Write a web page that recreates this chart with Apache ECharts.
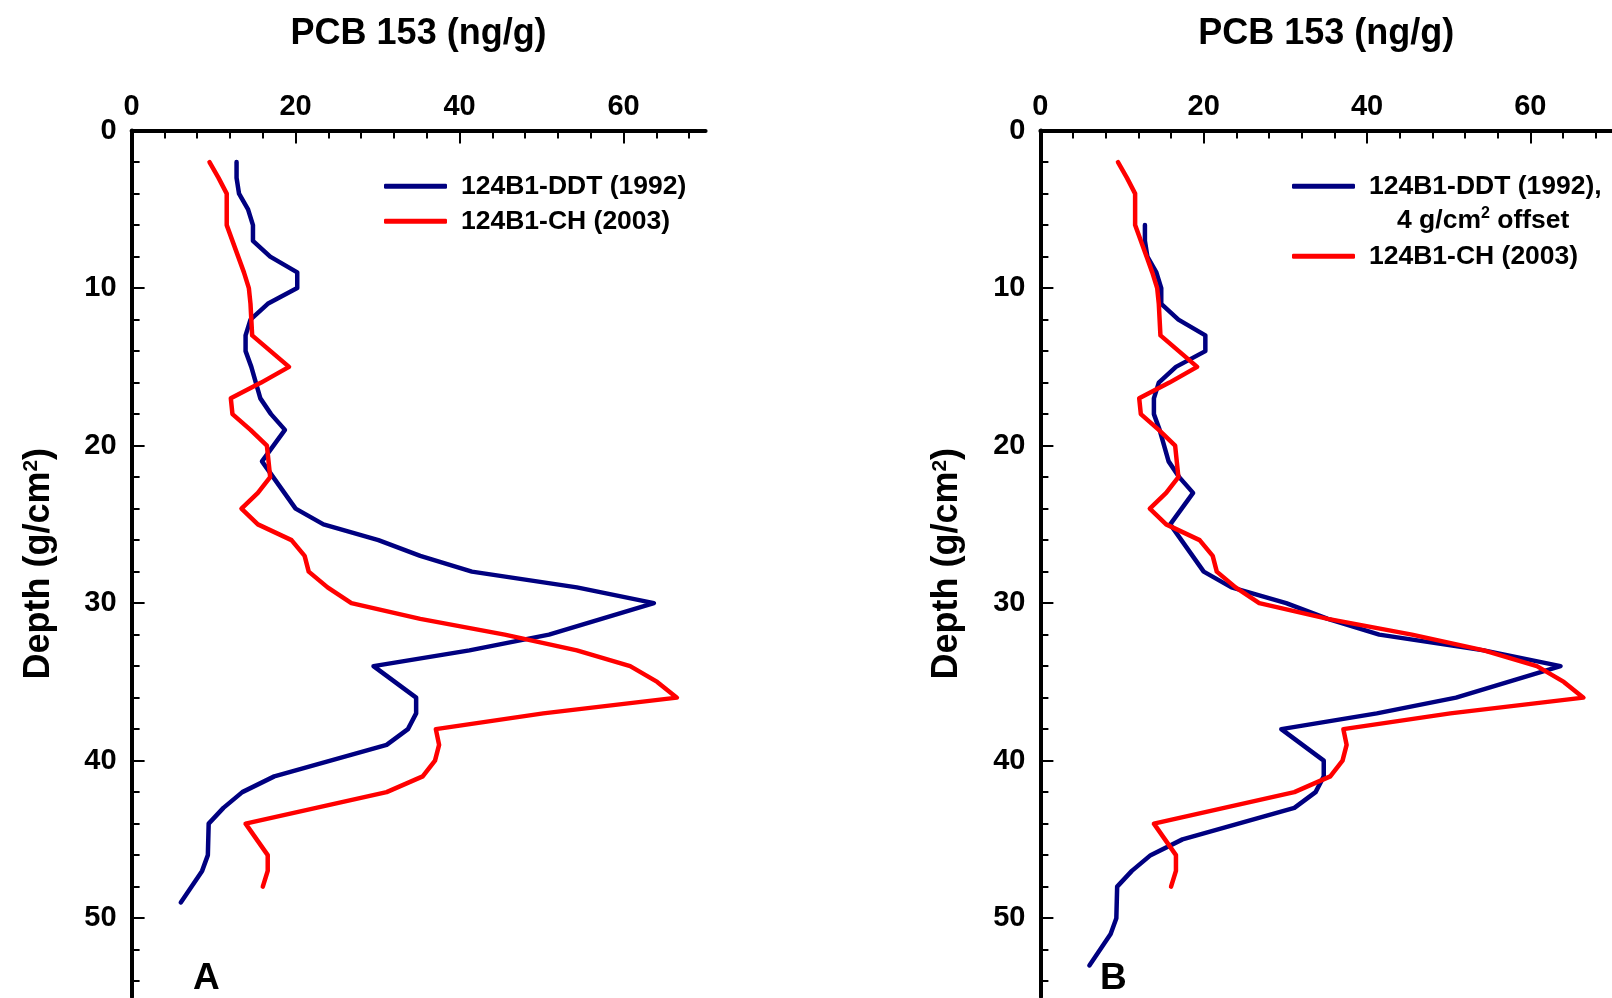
<!DOCTYPE html>
<html>
<head>
<meta charset="utf-8">
<script src="https://cdn.jsdelivr.net/npm/echarts@6/dist/echarts.min.js"></script>
<style>html,body{margin:0;padding:0;background:#fff}#c{width:1612px;height:998px}</style>
</head>
<body>
<div id="c"></div>
<script>
// ---- data ----
const depth1992 = [2, 3, 4, 5, 6, 7, 8, 9, 10, 11, 12, 13, 14, 15, 17, 18, 19, 21, 24, 25, 26, 27, 28, 29, 30, 32, 33, 34, 36, 37, 38, 39, 41, 42, 43, 44, 46, 47, 49];
const pcb1992   = [12.8, 12.8, 13.1, 14.2, 14.8, 14.8, 16.9, 20.2, 20.2, 16.6, 14.5, 13.9, 13.9, 14.6, 15.7, 17.0, 18.7, 15.9, 20.0, 23.4, 30.1, 35.2, 41.5, 54.3, 63.7, 50.9, 41.2, 29.5, 34.7, 34.7, 33.7, 31.1, 17.4, 13.5, 11.2, 9.4, 9.3, 8.6, 6.0];
const depth2003 = [2, 3, 4, 6, 8, 9, 10, 11, 13, 15, 16, 17, 18, 19, 20, 22, 23, 24, 25, 26, 27, 28, 29, 30, 31, 32, 33, 34, 35, 36, 37, 38, 39, 40, 41, 42, 44, 46, 47, 48];
const pcb2003   = [9.5, 10.6, 11.6, 11.6, 13.0, 13.7, 14.3, 14.5, 14.7, 19.2, 15.8, 12.1, 12.3, 14.5, 16.5, 16.9, 15.4, 13.4, 15.4, 19.5, 21.1, 21.6, 23.9, 26.8, 35.2, 45.5, 54.3, 60.8, 64.1, 66.5, 50.2, 37.1, 37.5, 37.0, 35.5, 31.1, 13.9, 16.6, 16.6, 16.0];
const depthOffset1992 = 4; // g/cm2 offset used in panel B

const xTickLabels = [0, 20, 40, 60];
const yTickLabels = [0, 10, 20, 30, 40, 50];
const xRange = [0, 70];
const yRange = [0, 55];
const xMinorStep = 4;
const yMinorStep = 2;

const nameDDT = '124B1-DDT (1992)';
const nameDDTB = '124B1-DDT (1992), 4 g/cm\u00B2 offset';
const nameCH = '124B1-CH (2003)';
const xTitle = 'PCB 153 (ng/g)';
const panelLabels = ['A', 'B'];

// ---- build ----
function steps(lo, hi, step) { const a = []; for (let v = lo; v <= hi + 1e-9; v += step) a.push(v); return a; }
const xMinor = steps(xRange[0], xRange[1] - 1, xMinorStep);
const yMinor = steps(yRange[0], yRange[1] - 1, yMinorStep);

const FONT = 'Liberation Sans, Arial, sans-serif';
const black = '#000';
const BLUE = '#000080';
const RED = '#ff0000';

const grids = [
  { left: 131.6, top: 130.6, width: 574, height: 866.3 },
  { left: 1040.4, top: 130.6, width: 574, height: 866.3 }
];

const xAxes = [], yAxes = [];
grids.forEach((g, gi) => {
  xAxes.push({
    type: 'value', gridIndex: gi, position: 'top', min: xRange[0], max: xRange[1], interval: 20,
    axisLine: { show: true, lineStyle: { color: black, width: 4 } },
    axisTick: { show: true, inside: true, length: 13, lineStyle: { color: black, width: 2 }, customValues: xTickLabels },
    axisLabel: { show: true, customValues: xTickLabels, fontSize: 29, fontWeight: 'bold', color: black, fontFamily: FONT, margin: 9 },
    splitLine: { show: false },
    name: xTitle, nameLocation: 'middle', nameGap: 79,
    nameTextStyle: { fontSize: 36, fontWeight: 'bold', color: black, fontFamily: FONT }
  });
  xAxes.push({
    type: 'value', gridIndex: gi, position: 'top', min: xRange[0], max: xRange[1], interval: 20,
    axisLine: { show: false },
    axisTick: { show: true, inside: true, length: 8, lineStyle: { color: black, width: 2 }, customValues: xMinor },
    axisLabel: { show: false }, splitLine: { show: false }
  });
  yAxes.push({
    type: 'value', gridIndex: gi, position: 'left', inverse: true, min: yRange[0], max: yRange[1], interval: 10,
    axisLine: { show: true, lineStyle: { color: black, width: 4 } },
    axisTick: { show: true, inside: true, length: 13, lineStyle: { color: black, width: 2 }, customValues: yTickLabels },
    axisLabel: { show: true, customValues: yTickLabels, fontSize: 29, fontWeight: 'bold', color: black, fontFamily: FONT, margin: 15 },
    splitLine: { show: false },
    name: '{a|Depth (g/cm}{s|2}{a|)}', nameLocation: 'middle', nameGap: 75, nameRotate: 90,
    nameTextStyle: {
      fontFamily: FONT,
      rich: {
        a: { fontSize: 36, fontWeight: 'bold', color: black, fontFamily: FONT },
        s: { fontSize: 21, fontWeight: 'bold', color: black, fontFamily: FONT, verticalAlign: 'top' }
      }
    }
  });
  yAxes.push({
    type: 'value', gridIndex: gi, position: 'left', inverse: true, min: yRange[0], max: yRange[1], interval: 10,
    axisLine: { show: false },
    axisTick: { show: true, inside: true, length: 8, lineStyle: { color: black, width: 2 }, customValues: yMinor },
    axisLabel: { show: false }, splitLine: { show: false }
  });
});

function pairs(xs, ds, off) { return ds.map((d, i) => [xs[i], d + (off || 0)]); }
function lineSeries(name, color, xi, yi, data) {
  return {
    type: 'line', name: name, xAxisIndex: xi, yAxisIndex: yi, data: data,
    symbol: 'none', smooth: false,
    lineStyle: { color: color, width: 4.5, join: 'round', cap: 'round' },
    itemStyle: { color: color }, emphasis: { disabled: true }
  };
}

const series = [
  lineSeries(nameDDT, BLUE, 0, 0, pairs(pcb1992, depth1992, 0)),
  lineSeries(nameCH, RED, 0, 0, pairs(pcb2003, depth2003, 0)),
  lineSeries(nameDDTB, BLUE, 2, 2, pairs(pcb1992, depth1992, depthOffset1992)),
  lineSeries(nameCH, RED, 2, 2, pairs(pcb2003, depth2003, 0))
];

const legendText = { fontSize: 26.5, fontWeight: 'bold', color: black, fontFamily: FONT, lineHeight: 30, padding: [0, 0, 0, 9] };
const legendBase = { orient: 'vertical', itemWidth: 63, itemHeight: 5, itemGap: 5, icon: 'roundRect', padding: 0, selectedMode: false, textStyle: legendText };

const option = {
  animation: false,
  backgroundColor: '#fff',
  textStyle: { fontFamily: FONT },
  grid: grids,
  xAxis: xAxes,
  yAxis: yAxes,
  legend: [
    Object.assign({}, legendBase, { left: 384, top: 171.3, data: [nameDDT, nameCH] }),
    Object.assign({}, legendBase, { left: 1292, top: 171.3, data: [nameDDTB], formatter: '124B1-DDT (1992),' }),
    Object.assign({}, legendBase, { left: 1292, top: 241.3, data: [nameCH] })
  ],
  graphic: [
    { type: 'text', left: 1397, top: 206, style: { text: '{a|4 g/cm}{s|2}{a| offset}', rich: {
        a: { fontSize: 26.5, fontWeight: 'bold', fill: black, fontFamily: FONT, lineHeight: 30 },
        s: { fontSize: 16, fontWeight: 'bold', fill: black, fontFamily: FONT, verticalAlign: 'top' } } } },
    { type: 'text', left: 193, top: 960, style: { text: panelLabels[0], fontSize: 37, fontWeight: 'bold', fill: black, fontFamily: FONT } },
    { type: 'text', left: 1100, top: 960, style: { text: panelLabels[1], fontSize: 37, fontWeight: 'bold', fill: black, fontFamily: FONT } }
  ],
  series: series
};

const chart = echarts.init(document.getElementById('c'), null, { renderer: 'canvas' });
chart.setOption(option);
</script>
</body>
</html>
